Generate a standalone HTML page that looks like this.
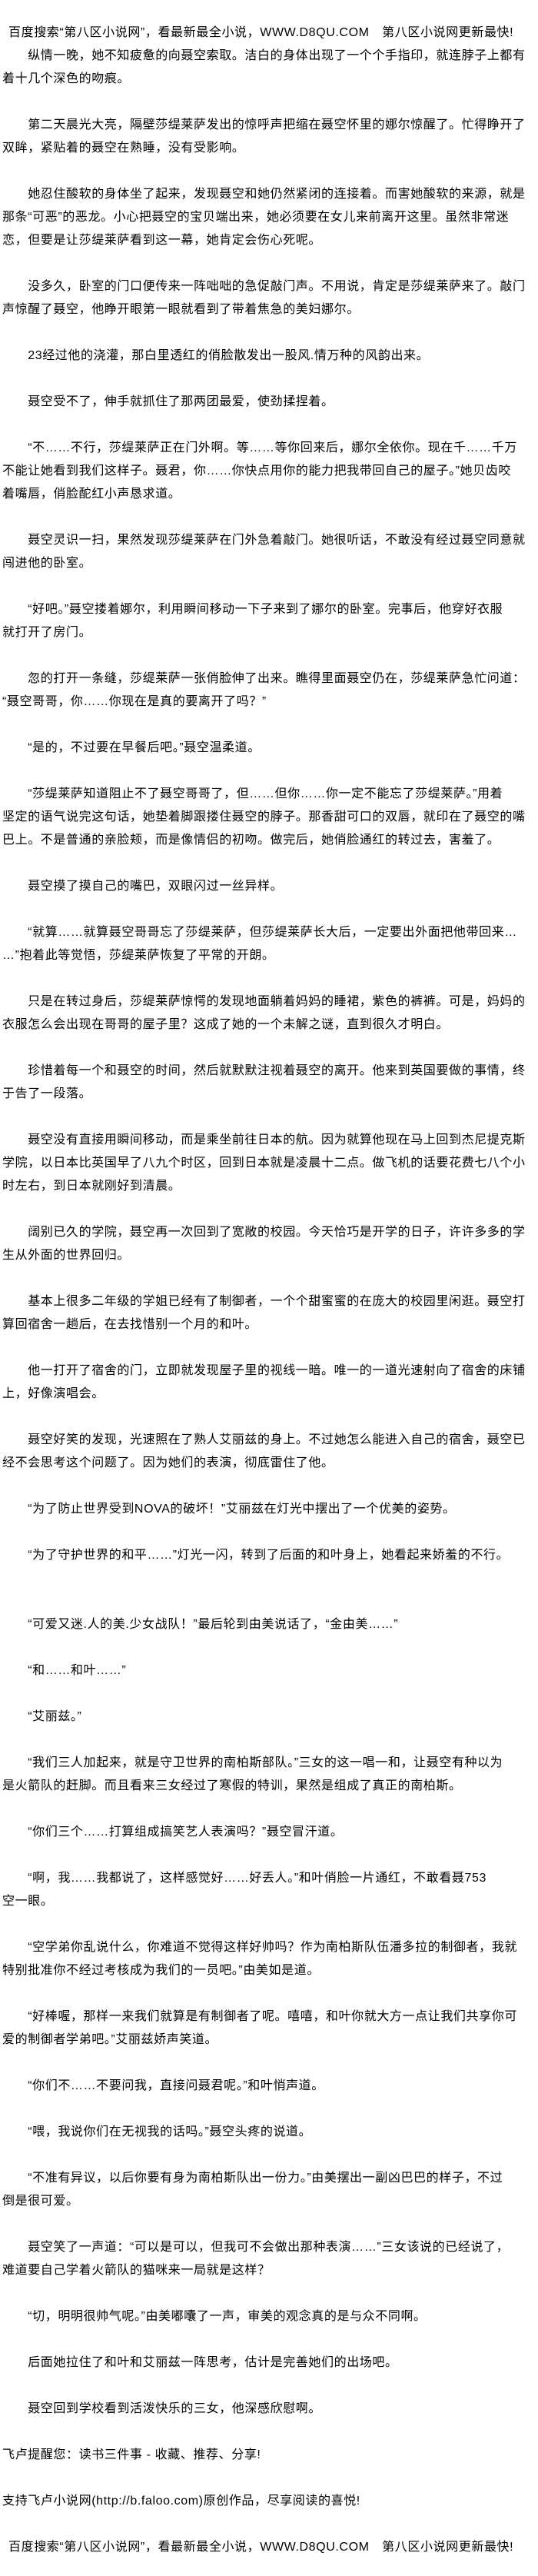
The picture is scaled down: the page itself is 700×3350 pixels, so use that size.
<!DOCTYPE html>
<html>
<head>
<meta charset="utf-8">
<style>
  html,body{margin:0;padding:0;background:#fff;}
  body{width:700px;height:3350px;overflow:hidden;}
  .t{
    position:absolute;left:3px;top:28px;
    font-family:"Liberation Sans","Noto Sans CJK SC","WenQuanYi Zen Hei",sans-serif;
    font-size:16px;line-height:30px;color:#000;
    letter-spacing:0.6px;white-space:nowrap;
  }
  .h{padding-left:8px;}
</style>
</head>
<body>
<div class="t">
<span class="h">百度搜索“第八区小说网”，看最新最全小说，WWW.D8QU.COM　第八区小说网更新最快!</span><br>
　　纵情一晚，她不知疲惫的向聂空索取。洁白的身体出现了一个个手指印，就连脖子上都有<br>
着十几个深色的吻痕。<br>
<br>
　　第二天晨光大亮，隔壁莎缇莱萨发出的惊呼声把缩在聂空怀里的娜尔惊醒了。忙得睁开了<br>
双眸，紧贴着的聂空在熟睡，没有受影响。<br>
<br>
　　她忍住酸软的身体坐了起来，发现聂空和她仍然紧闭的连接着。而害她酸软的来源，就是<br>
那条“可恶”的恶龙。小心把聂空的宝贝端出来，她必须要在女儿来前离开这里。虽然非常迷<br>
恋，但要是让莎缇莱萨看到这一幕，她肯定会伤心死呢。<br>
<br>
　　没多久，卧室的门口便传来一阵咄咄的急促敲门声。不用说，肯定是莎缇莱萨来了。敲门<br>
声惊醒了聂空，他睁开眼第一眼就看到了带着焦急的美妇娜尔。<br>
<br>
　　23经过他的浇灌，那白里透红的俏脸散发出一股风.情万种的风韵出来。<br>
<br>
　　聂空受不了，伸手就抓住了那两团最爱，使劲揉捏着。<br>
<br>
　　“不……不行，莎缇莱萨正在门外啊。等……等你回来后，娜尔全依你。现在千……千万<br>
不能让她看到我们这样子。聂君，你……你快点用你的能力把我带回自己的屋子。”她贝齿咬<br>
着嘴唇，俏脸酡红小声恳求道。<br>
<br>
　　聂空灵识一扫，果然发现莎缇莱萨在门外急着敲门。她很听话，不敢没有经过聂空同意就<br>
闯进他的卧室。<br>
<br>
　　“好吧。”聂空搂着娜尔，利用瞬间移动一下子来到了娜尔的卧室。完事后，他穿好衣服<br>
就打开了房门。<br>
<br>
　　忽的打开一条缝，莎缇莱萨一张俏脸伸了出来。瞧得里面聂空仍在，莎缇莱萨急忙问道：<br>
“聂空哥哥，你……你现在是真的要离开了吗？”<br>
<br>
　　“是的，不过要在早餐后吧。”聂空温柔道。<br>
<br>
　　“莎缇莱萨知道阻止不了聂空哥哥了，但……但你……你一定不能忘了莎缇莱萨。”用着<br>
坚定的语气说完这句话，她垫着脚跟搂住聂空的脖子。那香甜可口的双唇，就印在了聂空的嘴<br>
巴上。不是普通的亲脸颊，而是像情侣的初吻。做完后，她俏脸通红的转过去，害羞了。<br>
<br>
　　聂空摸了摸自己的嘴巴，双眼闪过一丝异样。<br>
<br>
　　“就算……就算聂空哥哥忘了莎缇莱萨，但莎缇莱萨长大后，一定要出外面把他带回来…<br>
…”抱着此等觉悟，莎缇莱萨恢复了平常的开朗。<br>
<br>
　　只是在转过身后，莎缇莱萨惊愕的发现地面躺着妈妈的睡裙，紫色的裤裤。可是，妈妈的<br>
衣服怎么会出现在哥哥的屋子里？这成了她的一个未解之谜，直到很久才明白。<br>
<br>
　　珍惜着每一个和聂空的时间，然后就默默注视着聂空的离开。他来到英国要做的事情，终<br>
于告了一段落。<br>
<br>
　　聂空没有直接用瞬间移动，而是乘坐前往日本的航。因为就算他现在马上回到杰尼提克斯<br>
学院，以日本比英国早了八九个时区，回到日本就是凌晨十二点。做飞机的话要花费七八个小<br>
时左右，到日本就刚好到清晨。<br>
<br>
　　阔别已久的学院，聂空再一次回到了宽敞的校园。今天恰巧是开学的日子，许许多多的学<br>
生从外面的世界回归。<br>
<br>
　　基本上很多二年级的学姐已经有了制御者，一个个甜蜜蜜的在庞大的校园里闲逛。聂空打<br>
算回宿舍一趟后，在去找惜别一个月的和叶。<br>
<br>
　　他一打开了宿舍的门，立即就发现屋子里的视线一暗。唯一的一道光速射向了宿舍的床铺<br>
上，好像演唱会。<br>
<br>
　　聂空好笑的发现，光速照在了熟人艾丽兹的身上。不过她怎么能进入自己的宿舍，聂空已<br>
经不会思考这个问题了。因为她们的表演，彻底雷住了他。<br>
<br>
　　“为了防止世界受到NOVA的破坏！”艾丽兹在灯光中摆出了一个优美的姿势。<br>
<br>
　　“为了守护世界的和平……”灯光一闪，转到了后面的和叶身上，她看起来娇羞的不行。<br>
<br>
<br>
　　“可爱又迷.人的美.少女战队！”最后轮到由美说话了，“金由美……”<br>
<br>
　　“和……和叶……”<br>
<br>
　　“艾丽兹。”<br>
<br>
　　“我们三人加起来，就是守卫世界的南柏斯部队。”三女的这一唱一和，让聂空有种以为<br>
是火箭队的赶脚。而且看来三女经过了寒假的特训，果然是组成了真正的南柏斯。<br>
<br>
　　“你们三个……打算组成搞笑艺人表演吗？”聂空冒汗道。<br>
<br>
　　“啊，我……我都说了，这样感觉好……好丢人。”和叶俏脸一片通红，不敢看聂753<br>
空一眼。<br>
<br>
　　“空学弟你乱说什么，你难道不觉得这样好帅吗？作为南柏斯队伍潘多拉的制御者，我就<br>
特别批准你不经过考核成为我们的一员吧。”由美如是道。<br>
<br>
　　“好棒喔，那样一来我们就算是有制御者了呢。嘻嘻，和叶你就大方一点让我们共享你可<br>
爱的制御者学弟吧。”艾丽兹娇声笑道。<br>
<br>
　　“你们不……不要问我，直接问聂君呢。”和叶悄声道。<br>
<br>
　　“喂，我说你们在无视我的话吗。”聂空头疼的说道。<br>
<br>
　　“不准有异议，以后你要有身为南柏斯队出一份力。”由美摆出一副凶巴巴的样子，不过<br>
倒是很可爱。<br>
<br>
　　聂空笑了一声道：“可以是可以，但我可不会做出那种表演……”三女该说的已经说了，<br>
难道要自己学着火箭队的猫咪来一局就是这样？<br>
<br>
　　“切，明明很帅气呢。”由美嘟囔了一声，审美的观念真的是与众不同啊。<br>
<br>
　　后面她拉住了和叶和艾丽兹一阵思考，估计是完善她们的出场吧。<br>
<br>
　　聂空回到学校看到活泼快乐的三女，他深感欣慰啊。<br>
<br>
飞卢提醒您：读书三件事 - 收藏、推荐、分享!<br>
<br>
支持飞卢小说网(http://b.faloo.com)原创作品，尽享阅读的喜悦!<br>
<br>
<span class="h">百度搜索“第八区小说网”，看最新最全小说，WWW.D8QU.COM　第八区小说网更新最快!</span>
</div>
</body>
</html>
